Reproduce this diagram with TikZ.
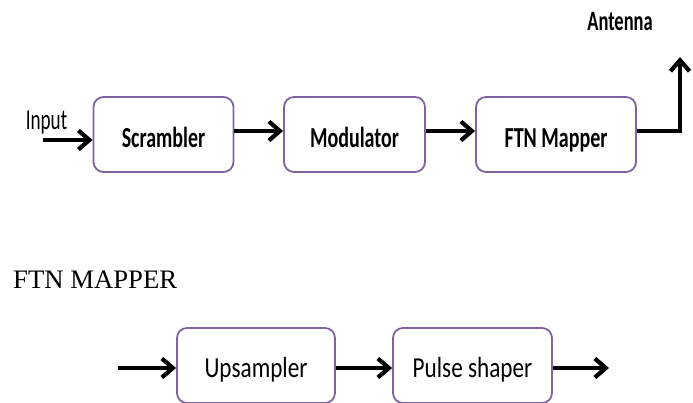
\documentclass[tikz,border=0pt]{standalone}
\usepackage{fontspec}
\setmainfont{Liberation Serif}
\newfontfamily\blockfont[FakeStretch=0.69]{Carlito}
\newfontfamily\lowfont[FakeStretch=0.8]{Carlito}
\newfontfamily\labfont[FakeStretch=0.66]{Carlito}
\usetikzlibrary{arrows.meta}
\definecolor{boxline}{HTML}{8064A2}
\tikzset{
  block/.style={draw=boxline, line width=1.8pt, rounded corners=10pt, fill=white,
    minimum height=75pt, inner sep=0pt},
  toptext/.style={font=\blockfont\bfseries\fontsize{29}{30}\selectfont,
    text height=27pt, text depth=0pt},
  lowtext/.style={font=\lowfont\fontsize{29}{30}\selectfont,
    text height=24pt, text depth=0pt},
  flow/.style={line width=4.2pt, -{Straight Barb[length=11pt,width=19pt]}}
}
\begin{document}
\begin{tikzpicture}[x=1pt,y=-1pt]
\useasboundingbox (0,0) rectangle (693,403);
% upper chain
\node[block, toptext, minimum width=140pt] (scr) at (163.5,134.5) {Scrambler};
\node[block, toptext, minimum width=141pt] (mod) at (354.5,134.5) {Modulator};
\node[block, toptext, minimum width=160pt] (ftn) at (556,134.5) {FTN Mapper};
\node[anchor=base, inner sep=0pt, font=\labfont\fontsize{29}{30}\selectfont] (inlab) at (46.5,130) {Input};
\node[anchor=base, inner sep=0pt, font=\labfont\bfseries\fontsize{28}{30}\selectfont] (antlab) at (620,31) {Antenna};
\coordinate (src) at (43,140);
\coordinate (ant) at (680,57);
\draw[flow] (src) -- (scr.west |- src);
\draw[flow] ([yshift=3.5pt]scr.east) -- ([yshift=3.5pt]mod.west);
\draw[flow] ([yshift=3.5pt]mod.east) -- ([yshift=3.5pt]ftn.west);
\draw[flow, line join=miter] ([yshift=3.5pt]ftn.east) -| (ant);
% FTN mapper detail
\node[anchor=base west, font=\fontsize{26.7}{30}\selectfont, inner sep=0pt] (title) at (13,288) {FTN MAPPER};
\node[block, lowtext, minimum width=158pt] (ups) at (256,365.5) {Upsampler};
\node[block, lowtext, minimum width=159pt] (pul) at (472.5,365.5) {Pulse shaper};
\coordinate (lin) at (118,368);
\coordinate (lout) at (609,368);
\draw[flow] (lin) -- (ups.west |- lin);
\draw[flow] ([yshift=-2.5pt]ups.east) -- ([yshift=-2.5pt]pul.west);
\draw[flow] ([yshift=-2.5pt]pul.east) -- (lout);
\end{tikzpicture}
\end{document}
